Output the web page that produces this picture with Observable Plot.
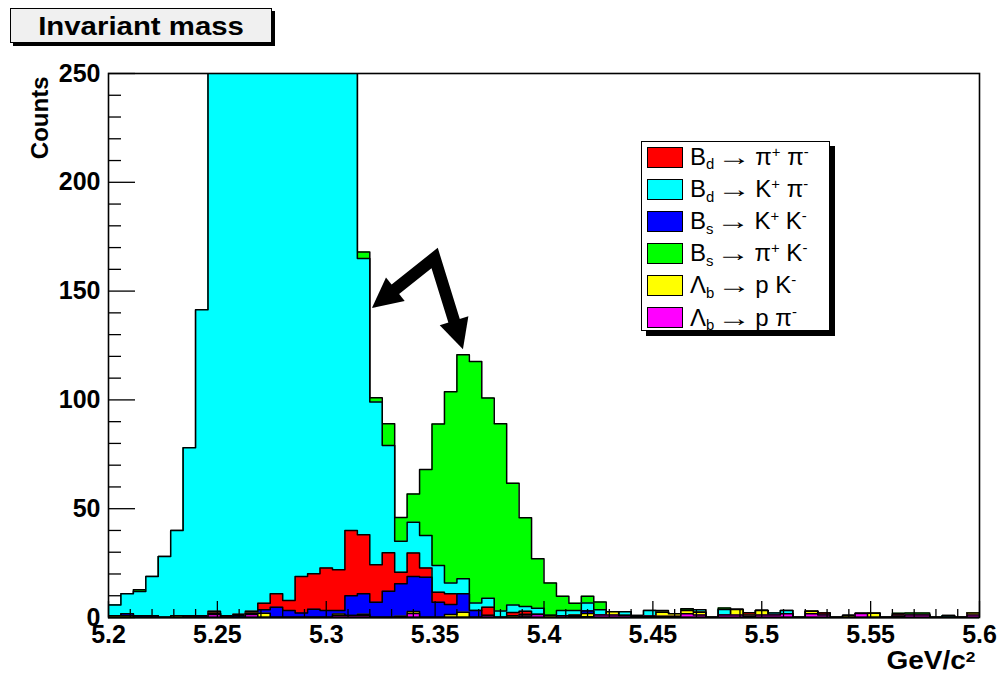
<!DOCTYPE html>
<html><head><meta charset="utf-8">
<script src="https://cdn.jsdelivr.net/npm/d3@7"></script>
<script src="https://cdn.jsdelivr.net/npm/@observablehq/plot@0.6"></script>
<style>
body{margin:0;background:#fff;font-family:"Liberation Sans",Arial,sans-serif;}
#wrap{position:relative;width:998px;height:675px;overflow:hidden;}
#title{position:absolute;left:10px;top:8px;width:260px;height:33px;border:1px solid #000;background:#f0f0f0;box-shadow:3px 3px 0 #000;font-weight:bold;font-size:26px;line-height:34px;text-align:center;}
#title span{display:inline-block;transform:scaleX(1.13);}
#legend{position:absolute;left:641px;top:141px;width:187px;height:188px;border:1.5px solid #000;background:#fff;box-shadow:5px 5px 0 #000;}
.row{position:absolute;left:5px;height:32px;display:flex;align-items:center;font-size:24px;white-space:nowrap;}
.sw{width:34px;height:19px;border:1.5px solid #000;margin-right:7px;flex:none;}
.row sub{font-size:0.62em;position:relative;top:0.3em;vertical-align:baseline;}
.row sup{font-size:0.62em;position:relative;top:-0.55em;vertical-align:baseline;}
.arr{display:inline-block;width:32px;text-align:center;margin:0 5px 0 4px;}
.arr i{display:inline-block;font-style:normal;transform:scaleX(1.4);}
#xlab{position:absolute;right:23px;top:647px;font-weight:bold;font-size:25px;line-height:26px;transform:scaleX(1.12);transform-origin:right center;}
#xlab sup{font-size:0.62em;position:relative;top:-0.45em;vertical-align:baseline;}
</style></head>
<body>
<div id="wrap">
  <div id="chart"></div>
  <div id="title"><span>Invariant mass</span></div>
  <div id="legend"></div>
  <div id="xlab">GeV/c<sup>2</sup></div>
</div>
<script>
// Histogram binning
const nBins = 70, xMin = 5.2, xMax = 5.6;
// Series (counts per bin), stacked bottom -> top
const lbPPi = [0,0,0,0,0,0,0,0,1.4,0, 0,1.4,0,0,0,0,0,0,0.9,0.9, 0.9,0,0,0,1.8,0,0,0,0,0, 0.9,0,0,0.7,1.4,0,0.8,0.5,0.3,1.2, 1.2,0.9,0.4,0.6,0.6,0.6,1.7,1.2,0,1.2, 1.2,0.6,1.2,1.2,1.7,0,1.7,1.2,0,0, 1.8,0,0,0.6,1.2,1.2,0,0,0,1.2];
const lbPK = [0.8,0.8,0,0,0,0.8,0,0,0.6,0, 0,0.6,2,0,0,0,0,0,0.7,0, 0.6,0,0,0.6,1,0,0,1.4,2.4,0, 0,0,0.8,0.7,0,0.9,0,0.5,1.5,0, 1.5,0,0,0,1.8,1.1,1.5,1.2,0,0, 2.5,0.6,2,0,0,0,1.2,0,0,0.9, 0,2,0,0,0,0,0,0,0,0.9];
const bsKK = [0,0.9,0.8,0.8,0,0,0,0.8,0,0, 0.9,0,1.6,4.7,3.2,2.1,3.8,3.2,1.6,9.1, 9.4,7,12.1,14.9,16,18.5,7,4.6,8.5,3.2, 0,0,0,0,0,0,0,0,1.2,0, 0,0,0,0,0,0,0,0,0,0, 0,0,0,0,0,0,0,0,0,0, 0,0,0,0,0,0,0,0,0,0];
const bdPiPi = [0,0,0,0,0,0,0.8,0,0.9,0.8, 0.6,0.9,3,6.2,4.6,16.7,16.3,19.6,18.7,30, 27.1,17.2,17.6,5.3,10.8,4.3,4.6,4.9,0,0, 3.8,0,1.5,1.5,0,0,0,0,0,0, 0,0,0,0,0,0,0,0,0,0, 0,1,0,0,0,0,0,0.9,0,0, 0,0,0,0.6,0,0,0,0,0,0];
const bdKPi = [5,9.2,11.1,18,28,39.2,77.2,140.6,270,400, 560,700,790,830,820,760,650,520,400,290, 127,74.8,49.3,14.2,14.2,14.9,12.3,4.9,6.9,3.5, 4.2,3,3.4,2.1,2.9,0,2.4,2.2,3.7,2.4, 0,1.8,0.5,2.6,0,0,0,1.2,0,2.5, 0,0,0,0.9,1.5,0,0,0,0,0, 0,0,0,0,0,0,0,0.9,0,0];
const bsPiK = [0,0,0.8,0,0,0,0,0,0,0, 0,0,0,0,0,0,0,0,0,0, 3,2,10,11,13,30.3,65,88,103,111, 92,86,56,40.8,22.7,15,6.6,3.4,3.1,3.5, 0,0,0,0,0.8,0,0.8,0,0,0.7, 0,0,0,0,0,0,0,0,0,0, 0,0,0,0.8,0.9,0.9,0,0,0,0];

const stackOrder = [
  {values: lbPPi, color: "#ff00ff"},
  {values: lbPK, color: "#ffff00"},
  {values: bsKK, color: "#0000ff"},
  {values: bdPiPi, color: "#ff0000"},
  {values: bdKPi, color: "#00ffff"},
  {values: bsPiK, color: "#00ff00"}
];
const ARROW = '<span class="arr"><i>→</i></span>';
const legendEntries = [
  {color: "#ff0000", html: 'B<sub>d</sub>' + ARROW + 'π<sup>+</sup> π<sup>-</sup>'},
  {color: "#00ffff", html: 'B<sub>d</sub>' + ARROW + 'K<sup>+</sup> π<sup>-</sup>'},
  {color: "#0000ff", html: 'B<sub>s</sub>' + ARROW + 'K<sup>+</sup> K<sup>-</sup>'},
  {color: "#00ff00", html: 'B<sub>s</sub>' + ARROW + 'π<sup>+</sup> K<sup>-</sup>'},
  {color: "#ffff00", html: 'Λ<sub>b</sub>' + ARROW + 'p K<sup>-</sup>'},
  {color: "#ff00ff", html: 'Λ<sub>b</sub>' + ARROW + 'p π<sup>-</sup>'}
];
const xTicks = [5.2,5.25,5.3,5.35,5.4,5.45,5.5,5.55,5.6];
const xTickLabels = ["5.2","5.25","5.3","5.35","5.4","5.45","5.5","5.55","5.6"];
const yTicks = [0,50,100,150,200,250];
const yTickLabels = ["0","50","100","150","200","250"];
// annotation arrows (data coordinates)
const arrowApex = {x: 5.3500, y: 165};
const arrowTips = [{x: 5.3212, y: 142}, {x: 5.3630, y: 123}];

const W = 998, H = 675, mL = 108, mR = 19, mT = 73, mB = 58;
const fw = W - mL - mR, fh = H - mT - mB;
const binW = (xMax - xMin) / nBins;
const xMinor = d3.range(1, 40).filter(i => i % 5 !== 0).map(i => xMin + i * 0.01);
const yMinor = d3.range(0, 251, 10).filter(v => v % 50 !== 0);

let cum = new Array(nBins).fill(0);
const stacks = stackOrder.map(l => { cum = cum.map((c, i) => c + l.values[i]); return {color: l.color, top: cum.slice()}; });
function stepPts(top) {
  const pts = top.map((v, i) => ({x: xMin + i * binW, v}));
  pts.push({x: xMax, v: top[nBins - 1]});
  return pts;
}
const histMarks = [];
for (const s of stacks.slice().reverse()) {
  const pts = stepPts(s.top);
  histMarks.push(Plot.areaY(pts, {x: "x", y: "v", curve: "step-after", fill: s.color, clip: true}));
  histMarks.push(Plot.lineY(pts, {x: "x", y: "v", curve: "step-after", stroke: "#000", strokeWidth: 1.5, clip: true}));
}

const chart = Plot.plot({
  width: W, height: H, marginLeft: mL, marginRight: mR, marginTop: mT, marginBottom: mB,
  x: {domain: [xMin, xMax], label: null},
  y: {domain: [0, 250], label: null},
  style: {fontFamily: "Liberation Sans, Arial, sans-serif", fontSize: "24px", fontWeight: "bold", background: "transparent", overflow: "visible", color: "#000"},
  marks: [
    ...histMarks,
    Plot.ruleX(xMinor, {insetTop: fh - 8, stroke: "#000", strokeWidth: 1.3}),
    Plot.ruleX(xTicks, {insetTop: fh - 16, stroke: "#000", strokeWidth: 1.3}),
    Plot.ruleY(yMinor, {insetRight: fw - 13, stroke: "#000", strokeWidth: 1.3}),
    Plot.ruleY(yTicks, {insetRight: fw - 27, stroke: "#000", strokeWidth: 1.3}),
    Plot.frame({stroke: "#000", strokeWidth: 1.6}),
    Plot.ruleY([0], {stroke: "#000", strokeWidth: 2}),
    Plot.axisX({ticks: xTicks, tickSize: 0, tickPadding: 8, fontSize: 25, tickFormat: d => xTickLabels[xTicks.indexOf(d)], fill: "#000"}),
    Plot.axisY({ticks: yTicks, tickSize: 0, tickPadding: 8, fontSize: 25, tickFormat: d => yTickLabels[yTicks.indexOf(d)], fill: "#000"}),
    Plot.text(["Counts"], {frameAnchor: "top-left", dx: -68, dy: 3, rotate: -90, textAnchor: "end", lineAnchor: "middle", fontWeight: "bold", fontSize: 24, fill: "#000"})
  ]
});
document.getElementById("chart").appendChild(chart);

// arrows through the chart's scales
const sx = chart.scale("x"), sy = chart.scale("y");
const px = p => [sx.apply(p.x), sy.apply(p.y)];
const A = px(arrowApex);
const g = d3.select(chart).append("g").attr("fill", "#000").attr("stroke", "none");
const headLen = 30, headW = 30, shaftW = 12;
const bases = [];
for (const t of arrowTips) {
  const T = px(t);
  const dx = T[0] - A[0], dy = T[1] - A[1], L = Math.hypot(dx, dy);
  const ux = dx / L, uy = dy / L, nx = -uy, ny = ux;
  const B = [T[0] - ux * headLen, T[1] - uy * headLen];
  bases.push([B[0] + ux * 4, B[1] + uy * 4]);
  g.append("path").attr("d", `M${T[0]},${T[1]}L${B[0] + nx * headW / 2},${B[1] + ny * headW / 2}L${B[0] - nx * headW / 2},${B[1] - ny * headW / 2}Z`);
}
g.append("path").attr("fill", "none").attr("stroke", "#000").attr("stroke-width", shaftW).attr("stroke-linejoin", "miter")
  .attr("d", `M${bases[0][0]},${bases[0][1]}L${A[0]},${A[1]}L${bases[1][0]},${bases[1][1]}`);

// legend
const leg = document.getElementById("legend");
legendEntries.forEach((e, i) => {
  const r = document.createElement("div");
  r.className = "row";
  r.style.top = (-1 + 32.1 * i) + "px";
  r.innerHTML = `<div class="sw" style="background:${e.color}"></div><span>${e.html}</span>`;
  leg.appendChild(r);
});
</script>
</body></html>
